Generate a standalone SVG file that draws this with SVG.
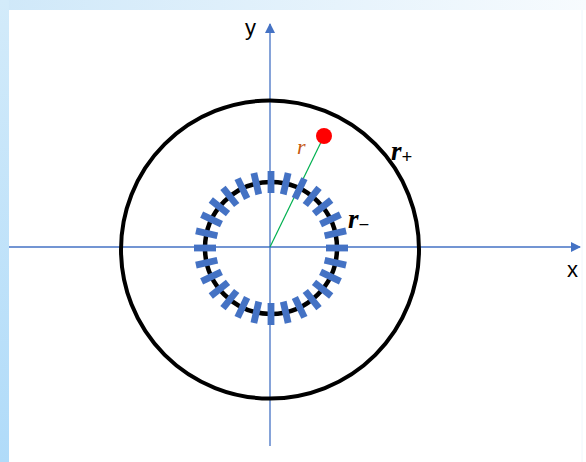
<svg xmlns="http://www.w3.org/2000/svg" xmlns:xlink="http://www.w3.org/1999/xlink" width="586" height="462" viewBox="0 0 586 462">
<defs>
<linearGradient id="lg" x1="0" y1="0" x2="0" y2="1"><stop offset="0" stop-color="#d3ebfa"/><stop offset="1" stop-color="#b0dbf9"/></linearGradient>
<linearGradient id="tg" x1="0" y1="0" x2="1" y2="0"><stop offset="0" stop-color="#cfe8f9"/><stop offset="1" stop-color="#f7fbfe"/></linearGradient>
<marker id="ah" viewBox="0 0 10 10" refX="9" refY="5" markerWidth="10" markerHeight="10" markerUnits="userSpaceOnUse" orient="auto"><path d="M0,0 L10,5 L0,10 Z" fill="#4472C4"/></marker>
<rect id="tk" x="326" y="244.6" width="22" height="6.8" fill="#4472C4"/>
<style>
.axis{stroke:#4472C4;stroke-width:1.3;fill:none}
.circ{stroke:#000;fill:none}
.lbl{font-family:"Liberation Sans",Arial,sans-serif;font-size:22px;fill:#000}
.math{font-family:"Liberation Serif","Times New Roman",serif;font-style:italic}
</style>
</defs>
<rect width="586" height="462" fill="#ffffff"/>
<rect x="0" y="0" width="586" height="10" fill="url(#tg)"/>
<rect x="0" y="0" width="9" height="462" fill="url(#lg)"/>
<line x1="582" y1="10" x2="582" y2="462" stroke="#f0f6fc" stroke-width="1"/>
<g id="connectors">
<line class="axis" x1="9" y1="247" x2="580" y2="247" marker-end="url(#ah)"/>
<line class="axis" x1="270" y1="446" x2="270" y2="24" marker-end="url(#ah)"/>
<line x1="270" y1="247" x2="324" y2="136" stroke="#00B050" stroke-width="1.2"/>
</g>
<g id="outer-circle"><circle class="circ" cx="270" cy="249.5" r="149" stroke-width="4"/></g>
<g id="inner-circle">
<circle class="circ" cx="271" cy="248" r="66" stroke-width="4.5"/>
<g id="ticks">
<use xlink:href="#tk" transform="rotate(0 271 248)"/>
<use xlink:href="#tk" transform="rotate(12.857 271 248)"/>
<use xlink:href="#tk" transform="rotate(25.714 271 248)"/>
<use xlink:href="#tk" transform="rotate(38.571 271 248)"/>
<use xlink:href="#tk" transform="rotate(51.429 271 248)"/>
<use xlink:href="#tk" transform="rotate(64.286 271 248)"/>
<use xlink:href="#tk" transform="rotate(77.143 271 248)"/>
<use xlink:href="#tk" transform="rotate(90 271 248)"/>
<use xlink:href="#tk" transform="rotate(102.857 271 248)"/>
<use xlink:href="#tk" transform="rotate(115.714 271 248)"/>
<use xlink:href="#tk" transform="rotate(128.571 271 248)"/>
<use xlink:href="#tk" transform="rotate(141.429 271 248)"/>
<use xlink:href="#tk" transform="rotate(154.286 271 248)"/>
<use xlink:href="#tk" transform="rotate(167.143 271 248)"/>
<use xlink:href="#tk" transform="rotate(180 271 248)"/>
<use xlink:href="#tk" transform="rotate(192.857 271 248)"/>
<use xlink:href="#tk" transform="rotate(205.714 271 248)"/>
<use xlink:href="#tk" transform="rotate(218.571 271 248)"/>
<use xlink:href="#tk" transform="rotate(231.429 271 248)"/>
<use xlink:href="#tk" transform="rotate(244.286 271 248)"/>
<use xlink:href="#tk" transform="rotate(257.143 271 248)"/>
<use xlink:href="#tk" transform="rotate(270 271 248)"/>
<use xlink:href="#tk" transform="rotate(282.857 271 248)"/>
<use xlink:href="#tk" transform="rotate(295.714 271 248)"/>
<use xlink:href="#tk" transform="rotate(308.571 271 248)"/>
<use xlink:href="#tk" transform="rotate(321.429 271 248)"/>
<use xlink:href="#tk" transform="rotate(334.286 271 248)"/>
<use xlink:href="#tk" transform="rotate(347.143 271 248)"/>
</g>
</g>
<g id="point"><circle cx="324" cy="136" r="8" fill="#FF0000"/></g>
<g id="labels">
<text class="lbl" x="245" y="35">y</text>
<text class="lbl" x="567" y="277">x</text>
<text class="math" x="297" y="154" font-size="22" fill="#C55A11">r</text>
<text class="math" x="391" y="160" font-size="27" font-weight="bold" fill="#000">r<tspan font-size="19" font-style="normal" dy="3">+</tspan></text>
<text class="math" x="348" y="228" font-size="27" font-weight="bold" fill="#000">r<tspan font-size="19" font-style="normal" dy="3">−</tspan></text>
</g>
</svg>
